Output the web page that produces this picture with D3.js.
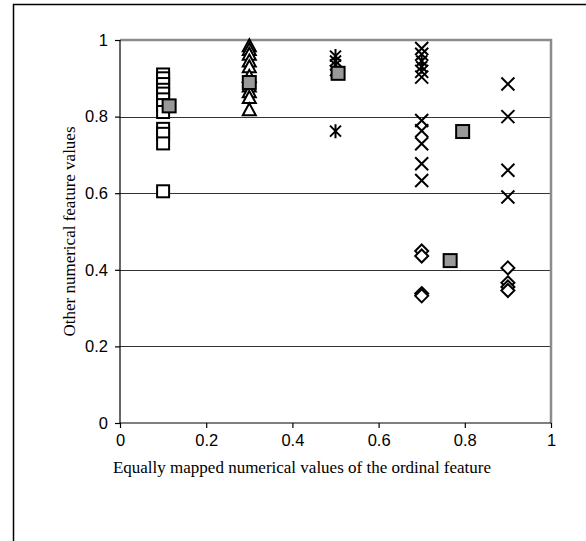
<!DOCTYPE html>
<html>
<head>
<meta charset="utf-8">
<script src="https://cdn.jsdelivr.net/npm/d3@7"></script>
<style>
  html, body { margin: 0; padding: 0; background: #fff; }
  svg { display: block; }
</style>
</head>
<body>
<svg id="chart" width="586" height="541"></svg>
<script>
// ---- data ----
const xTicks = [0, 0.2, 0.4, 0.6, 0.8, 1];
const yTicks = [0, 0.2, 0.4, 0.6, 0.8, 1];
const xTickLabels = ["0", "0.2", "0.4", "0.6", "0.8", "1"];
const yTickLabels = ["0", "0.2", "0.4", "0.6", "0.8", "1"];

// open squares at x = 0.1
const squaresX = 0.1;
const squaresY = [0.91, 0.9, 0.885, 0.87, 0.86, 0.845, 0.83, 0.812, 0.768, 0.755, 0.73, 0.605];
// open triangles at x = 0.3
const trianglesX = 0.3;
const trianglesY = [0.985, 0.975, 0.963, 0.945, 0.93, 0.905, 0.88, 0.865, 0.85, 0.818];
// asterisks
const asteriskPts = [[0.5, 0.958], [0.5, 0.945], [0.5, 0.935], [0.5, 0.92], [0.5, 0.762], [0.7, 0.945], [0.7, 0.93]];
// crosses
const crossPts = [[0.7, 0.978], [0.7, 0.963], [0.7, 0.918], [0.7, 0.903], [0.7, 0.79], [0.7, 0.763], [0.7, 0.729], [0.7, 0.677], [0.7, 0.633],
                  [0.9, 0.885], [0.9, 0.80], [0.9, 0.66], [0.9, 0.59]];
// diamonds
const diamondPts = [[0.7, 0.449], [0.7, 0.436], [0.7, 0.338], [0.7, 0.332],
                    [0.9, 0.405], [0.9, 0.366], [0.9, 0.355], [0.9, 0.346]];
// grey filled squares (cluster centres)
const centreX = [0.114, 0.3, 0.506, 0.795, 0.766];
const centreY = [0.828, 0.889, 0.913, 0.761, 0.424];

const xTitle = "Equally mapped numerical values of the ordinal feature";
const yTitle = "Other numerical feature values";

// ---- layout ----
const svg = d3.select("#chart");
const L = 120, R = 551, T = 40, B = 423;
const x = d3.scaleLinear().domain([0, 1]).range([L, R]);
const y = d3.scaleLinear().domain([0, 1]).range([B, T]);

// outer frame (left + top visible)
svg.append("path")
  .attr("d", `M13.5,545 L13.5,4.5 L590,4.5`)
  .attr("fill", "none").attr("stroke", "#000").attr("stroke-width", 1.5);

// gridlines
svg.append("g").selectAll("line").data(yTicks.filter(d => d > 0 && d < 1)).join("line")
  .attr("x1", L).attr("x2", R)
  .attr("y1", d => Math.round(y(d)) + 0.5).attr("y2", d => Math.round(y(d)) + 0.5)
  .attr("stroke", "#333").attr("stroke-width", 1);

// plot border top/right gray
svg.append("path")
  .attr("d", `M${L},${T} L${R},${T} L${R},${B}`)
  .attr("fill", "none").attr("stroke", "#8c8c8c").attr("stroke-width", 2.5);

// axes
const xAxis = d3.axisBottom(x).tickValues(xTicks).tickSize(5).tickPadding(6)
  .tickFormat((d, i) => xTickLabels[i]);
const yAxis = d3.axisLeft(y).tickValues(yTicks).tickSize(5).tickPadding(7)
  .tickFormat((d, i) => yTickLabels[i]);

const gx = svg.append("g").attr("transform", `translate(0,${B})`).call(xAxis);
const gy = svg.append("g").attr("transform", `translate(${L},0)`).call(yAxis);
[gx, gy].forEach(g => {
  g.select(".domain").attr("stroke", "#000").attr("stroke-width", 1.2);
  g.selectAll(".tick line").attr("stroke", "#000").attr("stroke-width", 1.2);
  g.selectAll("text").attr("fill", "#000")
    .style("font-family", "'Liberation Sans', Arial, sans-serif").style("font-size", "16.5px");
});
gy.select(".domain").attr("d", `M0,${B}V${T}`);
gx.select(".domain").attr("d", `M${L},0H${R}`);

// titles
svg.append("text").attr("x", 302).attr("y", 473)
  .attr("text-anchor", "middle")
  .style("font-family", "'Liberation Serif', 'Times New Roman', serif").style("font-size", "17px")
  .text(xTitle);
svg.append("text").attr("transform", `translate(75,${(T + B) / 2}) rotate(-90)`)
  .attr("text-anchor", "middle")
  .style("font-family", "'Liberation Serif', 'Times New Roman', serif").style("font-size", "17px")
  .text(yTitle);

const g = svg.append("g");
const sw = 2;

// squares
g.selectAll("rect.sq").data(squaresY).join("rect").attr("class", "sq")
  .attr("x", () => x(squaresX) - 6).attr("y", d => y(d) - 6)
  .attr("width", 12).attr("height", 12)
  .attr("fill", "#fff").attr("stroke", "#000").attr("stroke-width", sw);

// triangles
g.selectAll("path.tri").data(trianglesY).join("path").attr("class", "tri")
  .attr("d", d => { const cx = x(trianglesX), cy = y(d); return `M${cx},${cy - 6.5} L${cx + 6.5},${cy + 5.5} L${cx - 6.5},${cy + 5.5} Z`; })
  .attr("fill", "#fff").attr("stroke", "#000").attr("stroke-width", sw);

// diamonds
g.selectAll("path.dia").data(diamondPts).join("path").attr("class", "dia")
  .attr("d", d => { const cx = x(d[0]), cy = y(d[1]); return `M${cx},${cy - 6.5} L${cx + 6.5},${cy} L${cx},${cy + 6.5} L${cx - 6.5},${cy} Z`; })
  .attr("fill", "#fff").attr("stroke", "#000").attr("stroke-width", sw);

// crosses
g.selectAll("path.cr").data(crossPts).join("path").attr("class", "cr")
  .attr("d", d => { const cx = x(d[0]), cy = y(d[1]); return `M${cx - 6.5},${cy - 6.5} L${cx + 6.5},${cy + 6.5} M${cx + 6.5},${cy - 6.5} L${cx - 6.5},${cy + 6.5}`; })
  .attr("fill", "none").attr("stroke", "#000").attr("stroke-width", 2);

// asterisks
g.selectAll("path.as").data(asteriskPts).join("path").attr("class", "as")
  .attr("d", d => { const cx = x(d[0]), cy = y(d[1]); return `M${cx - 5.5},${cy - 5.5} L${cx + 5.5},${cy + 5.5} M${cx + 5.5},${cy - 5.5} L${cx - 5.5},${cy + 5.5} M${cx},${cy - 7} L${cx},${cy + 7}`; })
  .attr("fill", "none").attr("stroke", "#000").attr("stroke-width", 2);

// grey centres
g.selectAll("rect.ctr").data(centreX).join("rect").attr("class", "ctr")
  .attr("x", d => x(d) - 6.5).attr("y", (d, i) => y(centreY[i]) - 6.5)
  .attr("width", 13).attr("height", 13)
  .attr("fill", "#999").attr("stroke", "#000").attr("stroke-width", 2);
</script>
</body>
</html>
